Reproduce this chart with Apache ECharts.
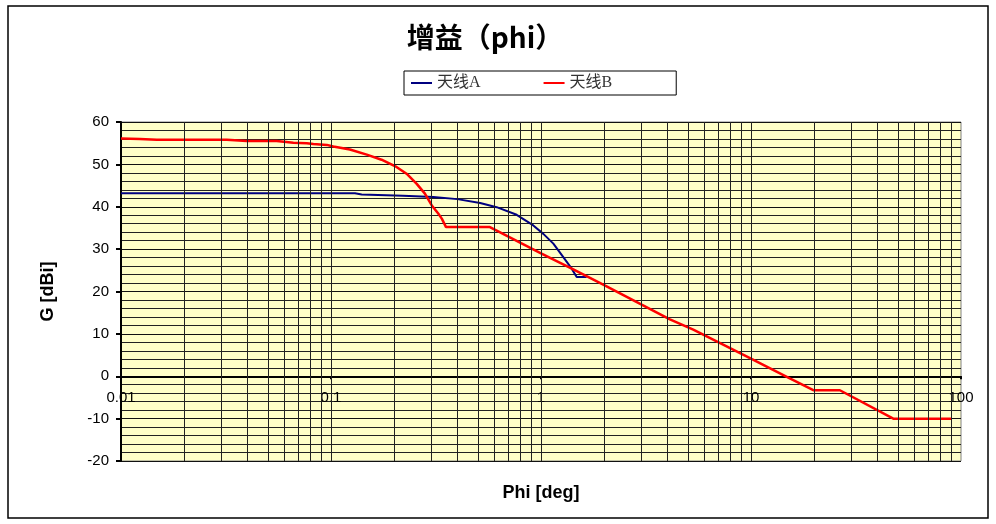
<!DOCTYPE html>
<html>
<head>
<meta charset="utf-8">
<script src="https://cdn.jsdelivr.net/npm/echarts@6/dist/echarts.min.js"></script>
<style>html,body{margin:0;padding:0;background:#fff}#c{width:996px;height:524px}</style>
</head>
<body>
<div id="c"></div>
<script>
// ---- data ----
const titleText = '增益（phi）';
const seriesNames = ['天线A', '天线B'];
const phiA  = [0.01, 0.05, 0.1, 0.13, 0.14, 0.22, 0.307, 0.40, 0.513, 0.615, 0.766, 0.919, 1.026, 1.145, 1.277, 1.40, 1.479, 1.65];
const gainA = [43.2, 43.2, 43.2, 43.2, 42.9, 42.6, 42.3, 41.8, 40.9, 39.9, 38.1, 35.6, 33.6, 31.3, 28.1, 25.4, 23.4, 23.4];
const phiB  = [0.01, 0.0123, 0.0148, 0.0319, 0.0397, 0.0551, 0.0662, 0.0766, 0.0824, 0.0955, 0.1026, 0.123, 0.148, 0.174, 0.205, 0.229, 0.256, 0.280, 0.302, 0.324, 0.337, 0.353, 0.571, 1.0, 1.425, 2.0, 4.11, 5.31, 9.89, 15.3, 19.8, 26.5, 47.6, 90.3];
const gainB = [56.1, 56.0, 55.8, 55.8, 55.5, 55.5, 55.1, 55.0, 54.8, 54.6, 54.2, 53.5, 52.3, 51.1, 49.4, 47.8, 45.4, 43.1, 40.3, 38.4, 37.2, 35.2, 35.2, 29.0, 25.2, 21.5, 13.4, 11.0, 4.3, -0.5, -3.3, -3.3, -10.0, -10.0];
const xTickLabels = ['0.01', '0.1', '1', '10', '100'];
const yMin = -20, yMax = 60, yInterval = 10;

// vertical log grid positions (2..9 and decades inside the range)
const vGrid = [];
for (let d = -2; d <= 1; d++) {
  for (let m = 1; m <= 9; m++) {
    const v = +(m * Math.pow(10, d)).toPrecision(3);
    if (v > 0.01 && v < 100) vGrid.push(v);
  }
}

const W = 996, H = 524;
const gridL = 121, gridR = 35, gridT = 122, gridB = 63;
const plotH = H - gridT - gridB;
// distance from the bottom of the plot to the zero line (x axis crosses at y = 0)
const zeroOffset = plotH * (0 - yMin) / (yMax - yMin);

const chart = echarts.init(document.getElementById('c'), null, {renderer: 'canvas'});
const axisFont = {fontFamily: 'Liberation Sans, Arial, sans-serif', fontSize: 15, color: '#000'};
const xFmt = function (v) {
  const i = Math.round(Math.log10(v)) + 2;
  return xTickLabels[i] !== undefined ? xTickLabels[i] : '';
};

chart.setOption({
  animation: false,
  backgroundColor: '#fff',
  title: {
    text: titleText,
    left: 480, top: 18, textAlign: 'center',
    textStyle: {fontFamily: 'Noto Sans CJK SC, sans-serif', fontWeight: 'bold', fontSize: 28, color: '#000'}
  },
  legend: {
    data: seriesNames,
    left: 404, top: 71,
    padding: [4, 64, 4, 7],
    itemGap: 63,
    itemWidth: 21, itemHeight: 2,
    icon: 'rect',
    borderColor: '#000', borderWidth: 1,
    textStyle: {fontFamily: 'Liberation Serif, Noto Sans CJK SC, serif', fontSize: 16, color: '#333'}
  },
  graphic: [{
    type: 'rect', silent: true, z: -1,
    shape: {x: 8, y: 6, width: 980, height: 512},
    style: {fill: 'none', stroke: '#000', lineWidth: 1.5}
  }],
  grid: {
    left: gridL, right: gridR, top: gridT, bottom: gridB,
    outerBoundsMode: 'none', containLabel: false,
    show: true, backgroundColor: '#FFFFC8', borderColor: '#808080', borderWidth: 1
  },
  xAxis: [
    {
      type: 'log', logBase: 10, min: 0.01, max: 100,
      name: 'Phi [deg]', nameLocation: 'middle', nameGap: 23,
      nameTextStyle: {fontFamily: 'Liberation Sans, Arial, sans-serif', fontWeight: 'bold', fontSize: 18, color: '#000'},
      axisLine: {onZero: true, lineStyle: {color: '#000', width: 2}},
      axisTick: {show: false},
      axisLabel: {show: false},
      splitLine: {show: false}
    },
    {
      // label carrier placed on the zero line
      type: 'log', logBase: 10, min: 0.01, max: 100,
      position: 'bottom', offset: -zeroOffset,
      axisLine: {show: false, onZero: false},
      axisTick: {show: true, length: 3, lineStyle: {color: '#000', width: 2}},
      axisLabel: Object.assign({margin: 14, formatter: xFmt}, axisFont),
      splitLine: {show: false}
    }
  ],
  yAxis: {
    type: 'value', min: yMin, max: yMax, interval: yInterval,
    name: 'G [dBi]', nameLocation: 'middle', nameGap: 64, nameRotate: 90,
    nameTextStyle: {fontFamily: 'Liberation Sans, Arial, sans-serif', fontWeight: 'bold', fontSize: 18, color: '#000'},
    axisLine: {show: true, onZero: false, lineStyle: {color: '#000', width: 2}},
    axisTick: {show: true, length: 5, lineStyle: {color: '#000', width: 2}},
    axisLabel: Object.assign({margin: 12}, axisFont),
    splitLine: {show: true, lineStyle: {color: '#111', width: 1}},
    minorTick: {show: false, splitNumber: 5},
    minorSplitLine: {show: true, lineStyle: {color: '#222', width: 1}}
  },
  series: [
    {
      name: '_grid', type: 'line', data: [], z: 1, silent: true,
      markLine: {
        silent: true, symbol: ['none', 'none'], animation: false,
        label: {show: false},
        lineStyle: {color: '#222', width: 1, type: 'solid'},
        data: vGrid.map(v => ({xAxis: v}))
      }
    },
    {
      name: seriesNames[0], type: 'line', z: 3,
      data: phiA.map((p, i) => [p, gainA[i]]),
      showSymbol: false, symbol: 'none',
      lineStyle: {color: '#000080', width: 2},
      itemStyle: {color: '#000080'}
    },
    {
      name: seriesNames[1], type: 'line', z: 4,
      data: phiB.map((p, i) => [p, gainB[i]]),
      showSymbol: false, symbol: 'none',
      lineStyle: {color: '#FF0000', width: 2.5},
      itemStyle: {color: '#FF0000'}
    }
  ]
});
</script>
</body>
</html>
